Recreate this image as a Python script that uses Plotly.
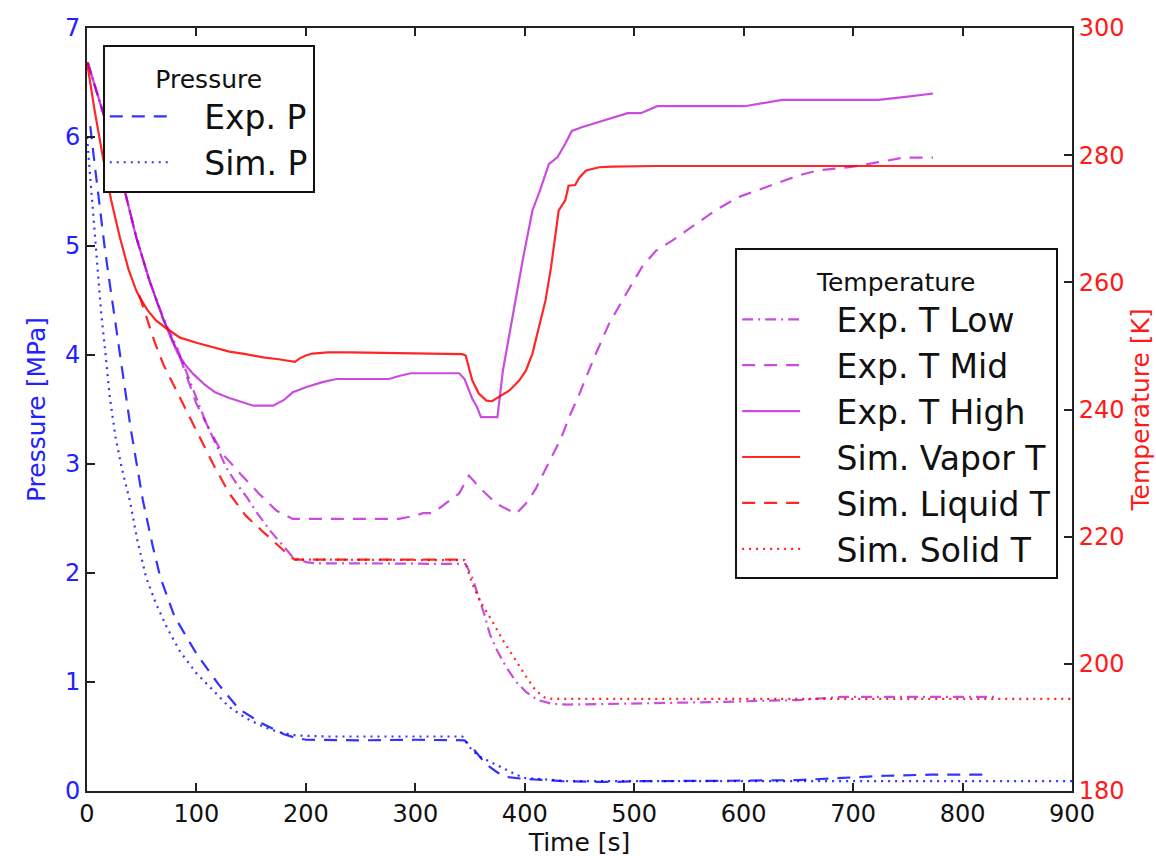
import plotly.graph_objects as go

# ---- Pressure [MPa] ----
exp_p_t = [3, 5, 7, 10, 13, 16, 19, 25, 30, 40, 51, 60, 67, 80, 100, 120, 139, 160,
           180, 190, 200, 250, 300, 345, 352, 360, 368, 375, 383, 390, 400, 420, 434,
           460, 480, 505, 550, 600, 650, 696, 730, 771, 800, 825]
exp_p = [6.10, 5.95, 5.75, 5.50, 5.23, 5.00, 4.78, 4.35, 4.04, 3.32, 2.67, 2.25, 1.96,
         1.60, 1.26, 0.98, 0.75, 0.62, 0.52, 0.49, 0.47, 0.465, 0.47, 0.465, 0.40, 0.30,
         0.22, 0.17, 0.13, 0.12, 0.11, 0.10, 0.09, 0.085, 0.083, 0.09, 0.09, 0.095, 0.10,
         0.125, 0.14, 0.15, 0.15, 0.15]

sim_p_t = [0, 2, 4, 7, 10, 13, 17, 21, 26, 32, 39, 46, 54, 63, 73, 85, 100, 115, 130,
           145, 161, 175, 191, 220, 260, 300, 343, 352, 360, 368, 376, 383, 392, 400,
           411, 422, 440, 500, 600, 700, 800, 900]
sim_p = [6.00, 5.75, 5.45, 5.05, 4.72, 4.38, 4.00, 3.60, 3.25, 2.95, 2.67, 2.30, 1.96,
         1.72, 1.50, 1.28, 1.08, 0.92, 0.77, 0.67, 0.59, 0.54, 0.51, 0.50, 0.50, 0.50,
         0.50, 0.37, 0.31, 0.27, 0.23, 0.19, 0.15, 0.12, 0.11, 0.10, 0.09, 0.09, 0.09,
         0.09, 0.09, 0.09]

# ---- Temperature [K] ----
exp_t_low_t = [0.6, 10, 20, 30, 45, 57, 70, 82, 95, 109, 118, 127, 136, 146, 156, 167,
               178, 188, 200, 209, 250, 300, 340, 346, 352, 358, 363, 368, 375, 383,
               392, 401, 412, 425, 440, 480, 520, 577, 620, 650, 689, 720, 760, 800, 832]
exp_t_low = [294.6, 289.5, 283.7, 277.5, 267.1, 260.3, 254.3, 249.8, 244.0, 237.8,
             234.5, 230.9, 228.5, 226.2, 223.6, 221.0, 218.8, 216.8, 216.0, 215.8,
             215.8, 215.8, 215.8, 215.7, 213.6, 210.5, 207.8, 204.7, 202.0, 199.5,
             197.2, 195.6, 194.3, 193.7, 193.6, 193.7, 193.8, 194.0, 194.2, 194.3,
             194.8, 194.8, 194.8, 194.8, 194.8]

exp_t_mid_t = [0.6, 10, 17, 30, 45, 57, 69, 85, 100, 112, 124, 140, 157, 173, 188, 200,
               250, 285, 300, 307, 316, 328, 340, 349, 360, 374, 385, 392, 401, 410,
               418, 426, 433, 441, 450, 463, 477, 492, 507, 520, 535, 555, 574, 595,
               620, 650, 668, 700, 723, 746, 773]
exp_t_mid = [294.6, 289.5, 285.4, 277.5, 267.1, 260.3, 254.5, 248.2, 240.9, 236.8,
             233.0, 229.9, 226.8, 224.1, 222.8, 222.8, 222.8, 222.8, 223.3, 223.7,
             223.7, 225.2, 226.8, 229.6, 227.5, 225.2, 224.2, 223.6, 225.2, 227.5,
             230.3, 233.0, 235.4, 239.0, 242.5, 248.0, 253.5, 258.0, 262.4, 265.0,
             266.6, 269.0, 271.3, 273.4, 275.0, 276.8, 277.6, 278.2, 278.9, 279.6,
             279.6]

exp_t_high_t = [0.6, 10, 17, 30, 45, 57, 69, 76, 83, 90, 97, 107, 117, 130, 140, 152,
                160, 170, 180, 188, 200, 215, 228, 250, 276, 286, 296, 320, 340, 345,
                352, 356, 360, 368, 375, 380, 389, 398, 407, 414, 422, 430, 437, 443,
                452, 462, 478, 494, 506, 521, 560, 601, 635, 680, 723, 750, 773]
exp_t_high = [294.6, 289.5, 285.4, 277.5, 267.1, 260.3, 254.5, 251.5, 248.8, 247.0,
              245.6, 244.0, 242.7, 241.8, 241.2, 240.6, 240.6, 240.6, 241.5, 242.7,
              243.5, 244.3, 244.8, 244.8, 244.8, 245.3, 245.7, 245.7, 245.7, 244.8,
              241.7, 240.5, 238.8, 238.8, 238.8, 246.1, 255.0, 263.4, 271.3, 274.5,
              278.6, 279.7, 281.8, 283.8, 284.4, 284.9, 285.8, 286.6, 286.6, 287.7,
              287.7, 287.7, 288.7, 288.7, 288.7, 289.2, 289.7]

sim_t_vap_t = [0, 7, 14, 22, 30, 38, 45, 48, 55, 63, 73, 85, 100, 115, 130, 145, 161,
               175, 190, 194, 200, 206, 220, 240, 280, 320, 343, 346, 349, 352, 358,
               365, 370, 377, 386, 395, 401, 407, 413, 419, 424, 427, 431, 437, 440,
               446, 450, 456, 468, 480, 520, 600, 700, 800, 900]
sim_t_vap = [294.6, 287.0, 280.2, 273.0, 267.1, 262.0, 258.7, 257.7, 255.7, 254.0,
             252.7, 251.3, 250.5, 249.8, 249.1, 248.7, 248.2, 247.9, 247.5, 248.0,
             248.5, 248.8, 249.0, 249.0, 248.9, 248.8, 248.7, 248.5, 246.5, 244.6,
             242.5, 241.4, 241.3, 242.0, 243.0, 244.6, 246.1, 248.8, 253.0, 257.2,
             262.4, 266.3, 271.3, 272.9, 275.2, 275.3, 276.5, 277.6, 278.1, 278.2,
             278.3, 278.3, 278.3, 278.3, 278.3]

sim_t_liq_t = [47.7, 55, 62, 70, 80, 90, 100, 115, 130, 145, 160, 175, 185, 190, 220,
               260, 300, 340, 345]
sim_t_liq = [258.0, 254.0, 250.5, 247.0, 243.5, 240.0, 236.7, 231.5, 226.8, 223.3,
             220.9, 218.6, 217.0, 216.4, 216.4, 216.4, 216.4, 216.4, 216.4]

sim_t_sol_t = [190, 220, 260, 300, 345, 352, 360, 370, 380, 392, 400, 410, 419, 425,
               440, 500, 600, 700, 800, 900]
sim_t_sol = [216.4, 216.4, 216.4, 216.4, 216.3, 212.6, 209.6, 206.8, 203.7, 200.5,
             198.3, 195.8, 194.6, 194.5, 194.5, 194.5, 194.5, 194.5, 194.5, 194.5]

BLUE = "rgba(0,0,255,0.8)"
RED = "rgba(255,0,0,0.85)"
MAG = "rgba(180,0,210,0.7)"
FONT = "DejaVu Sans"

DASH = "13px,9px"
DOT = "2px,5px"
DASHDOT = "11px,5px,2px,5px"

# non-breaking spaces push legend labels away from their line samples
PAD = "\u00a0\u00a0\u00a0"

fig = go.Figure()

# pressure curves on the left axis
fig.add_trace(go.Scatter(x=exp_p_t, y=exp_p, name=PAD + "Exp. P", mode="lines",
                         line=dict(color=BLUE, width=2.2, dash=DASH),
                         legend="legend", yaxis="y"))
fig.add_trace(go.Scatter(x=sim_p_t, y=sim_p, name=PAD + "Sim. P", mode="lines",
                         line=dict(color=BLUE, width=2.2, dash=DOT),
                         legend="legend", yaxis="y"))

# temperature curves on the right axis
temp_series = [
    (exp_t_low_t, exp_t_low, "Exp. T Low", MAG, DASHDOT),
    (exp_t_mid_t, exp_t_mid, "Exp. T Mid", MAG, DASH),
    (exp_t_high_t, exp_t_high, "Exp. T High", MAG, "solid"),
    (sim_t_vap_t, sim_t_vap, "Sim. Vapor T", RED, "solid"),
    (sim_t_liq_t, sim_t_liq, "Sim. Liquid T", RED, DASH),
    (sim_t_sol_t, sim_t_sol, "Sim. Solid T", RED, DOT),
]
for tx, ty, name, color, dash in temp_series:
    fig.add_trace(go.Scatter(x=tx, y=ty, name=PAD + name, mode="lines",
                             line=dict(color=color, width=2.2, dash=dash),
                             legend="legend2", yaxis="y2"))

axis_common = dict(
    showgrid=False, zeroline=False, showline=True, linecolor="#222222", linewidth=2,
    ticks="inside", ticklen=8, tickwidth=1.5, tickcolor="#222222",
)


def legend_title(text):
    # title drawn at 25px inside a taller line box, leaving room below it
    return dict(text=f"<span style='font-size:25px'>{text}</span>", side="top center",
                font=dict(size=32, color="#111111"))


fig.update_layout(
    width=1156, height=860,
    margin=dict(l=87, r=84, t=28, b=69),
    paper_bgcolor="white", plot_bgcolor="white",
    font=dict(family=FONT, color="#111111"),
    xaxis=dict(range=[0, 900], tickvals=[0, 100, 200, 300, 400, 500, 600, 700, 800, 900],
               tickfont=dict(size=24, color="#111111"), mirror="ticks",
               title=dict(text="Time [s]", font=dict(size=25, color="#111111"), standoff=6),
               automargin=False, **axis_common),
    yaxis=dict(range=[0, 7], tickvals=[0, 1, 2, 3, 4, 5, 6, 7],
               tickfont=dict(size=24, color="#2222ff"),
               title=dict(text="Pressure [MPa]", font=dict(size=25, color="#2222ff"), standoff=12),
               automargin=False, **axis_common),
    yaxis2=dict(range=[180, 300], tickvals=[180, 200, 220, 240, 260, 280, 300],
                overlaying="y", side="right",
                tickfont=dict(size=24, color="#ff1a1a"),
                automargin=False, **axis_common),
    annotations=[dict(text="Temperature [K]", textangle=-90, xref="paper", yref="paper",
                      x=1.070, y=0.5, xanchor="center", yanchor="middle", showarrow=False,
                      font=dict(size=25, color="#ff1a1a", family=FONT))],
    legend=dict(
        title=legend_title("Pressure"),
        x=0.016, y=0.978, xanchor="left", yanchor="top",
        bgcolor="white", bordercolor="#111111", borderwidth=2,
        font=dict(size=33, color="#111111"), itemwidth=58,
    ),
    legend2=dict(
        title=legend_title("Temperature"),
        x=0.658, y=0.712, xanchor="left", yanchor="top",
        bgcolor="white", bordercolor="#111111", borderwidth=2,
        font=dict(size=33, color="#111111"), itemwidth=58,
    ),
)

fig.write_html("out.html")
